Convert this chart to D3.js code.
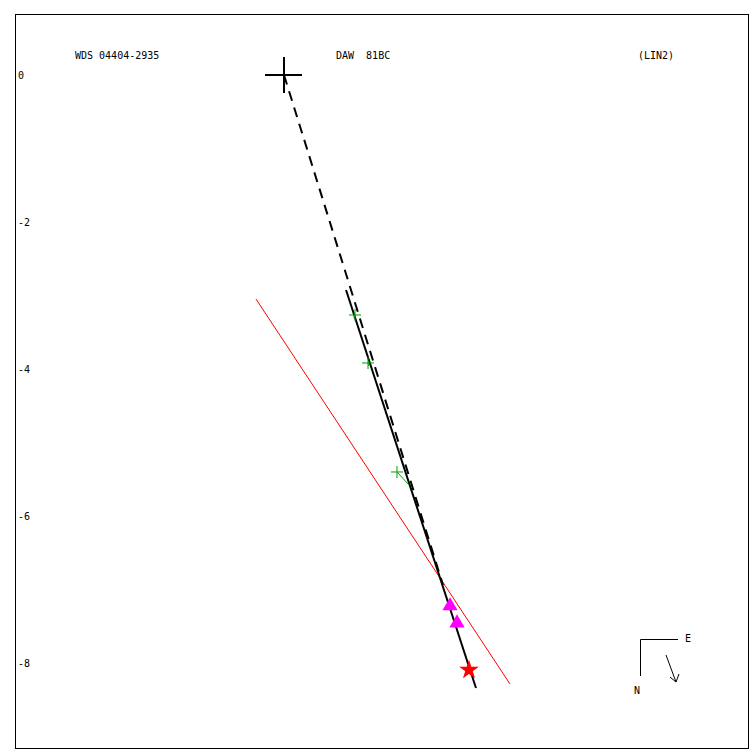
<!DOCTYPE html>
<html lang="en">
<head>
  <meta charset="UTF-8">
  <title>WDS 04404-2935 DAW 81BC (LIN2)</title>
  <style>
    body { margin: 0; background: #fff; }
    svg { display: block; }
    text { font-family: "DejaVu Sans Mono", monospace; font-size: 10px; fill: #000; }
  </style>
</head>
<body>
  <div id="chart"></div>
  <script src="https://d3js.org/d3.v7.min.js"></script>
  <script>
    // header labels
    const titles = ["WDS 04404-2935", "DAW  81BC", "(LIN2)"];
    const yTicks = [0, -2, -4, -6, -8];

    // primary star at origin (arcsec)
    const primary = [0, 0];

    // green: older measures, with ends of their O-C residual lines
    const greenObs = [[0.966, -3.265], [1.143, -3.918], [1.537, -5.401]];
    const greenCalc = [[0.952, -3.300], [1.157, -3.959], [1.701, -5.578]];

    // magenta: recent measures
    const magentaObs = [[2.259, -7.224], [2.354, -7.456]];

    // red star: last position
    const lastPos = [2.517, -8.095];

    // linear fit (solid), red reference line, dashed line from primary
    const fitLine = [[0.844, -2.925], [2.612, -8.340]];
    const redLine = [[-0.381, -3.048], [3.075, -8.286]];
    const dashLine = [[0, 0], [2.163, -6.939]];

    const W = 750, H = 750;
    const frame = { left: 15, top: 14, right: 748, bottom: 748 };
    const pxPerUnit = 73.5;

    const svg = d3.select("#chart").append("svg")
      .attr("width", W).attr("height", H);

    const x = d3.scaleLinear().domain([0, 1]).range([284, 284 + pxPerUnit]);
    const y = d3.scaleLinear().domain([0, -8]).range([75, 75 + 8 * pxPerUnit]);

    // frame
    svg.append("rect")
      .attr("x", frame.left + 0.5).attr("y", frame.top + 0.5)
      .attr("width", frame.right - frame.left)
      .attr("height", frame.bottom - frame.top)
      .attr("fill", "none").attr("stroke", "#000").attr("stroke-width", 1)
      .attr("shape-rendering", "crispEdges");

    // y axis labels only
    const yAxis = d3.axisRight(y).tickValues(yTicks).tickSize(0).tickPadding(3)
      .tickFormat(d => d === 0 ? "0" : "-" + Math.abs(d));
    const gy = svg.append("g").attr("transform", `translate(${frame.left},0)`).call(yAxis);
    gy.select(".domain").remove();
    gy.selectAll("text").style("font-family", "DejaVu Sans Mono, monospace").style("font-size", "10px");

    // titles
    const titleX = [75, 336, 638];
    svg.selectAll(".title").data(titles).enter().append("text")
      .attr("class", "title")
      .attr("x", (d, i) => titleX[i]).attr("y", 59)
      .style("white-space", "pre")
      .attr("xml:space", "preserve")
      .text(d => d);

    const line = d3.line().x(d => x(d[0])).y(d => y(d[1]));

    // red line
    svg.append("path").attr("d", line(redLine))
      .attr("stroke", "#ff0000").attr("stroke-width", 1).attr("fill", "none");

    // dashed line from primary
    svg.append("path").attr("d", line(dashLine))
      .attr("stroke", "#000").attr("stroke-width", 2).attr("fill", "none")
      .attr("stroke-dasharray", "10,7");

    // linear fit
    svg.append("path").attr("d", line(fitLine))
      .attr("stroke", "#000").attr("stroke-width", 2).attr("fill", "none");

    // residual lines
    svg.selectAll(".resid").data(greenObs).enter().append("line")
      .attr("x1", d => x(d[0])).attr("y1", d => y(d[1]))
      .attr("x2", (d, i) => x(greenCalc[i][0])).attr("y2", (d, i) => y(greenCalc[i][1]))
      .attr("stroke", "#00a000").attr("stroke-width", 1);

    // green plus marks
    const plus = svg.selectAll(".plus").data(greenObs).enter().append("g")
      .attr("transform", d => `translate(${x(d[0])},${y(d[1])})`);
    plus.append("line").attr("x1", -6).attr("x2", 6).attr("y1", 0).attr("y2", 0)
      .attr("stroke", "#00a000").attr("stroke-width", 1);
    plus.append("line").attr("x1", 0).attr("x2", 0).attr("y1", -6).attr("y2", 6)
      .attr("stroke", "#00a000").attr("stroke-width", 1);

    // magenta triangles
    svg.selectAll(".tri").data(magentaObs).enter().append("path")
      .attr("d", d3.symbol(d3.symbolTriangle, 100))
      .attr("transform", d => `translate(${x(d[0])},${y(d[1])})`)
      .attr("fill", "#ff00ff");

    // red star
    svg.append("path")
      .attr("d", d3.symbol(d3.symbolStar, 120))
      .attr("transform", `translate(${x(lastPos[0])},${y(lastPos[1])})`)
      .attr("fill", "#ff0000");

    // primary cross
    const cx = x(primary[0]), cy = y(primary[1]);
    svg.append("line").attr("x1", cx - 19).attr("x2", cx + 18).attr("y1", cy).attr("y2", cy)
      .attr("stroke", "#000").attr("stroke-width", 2);
    svg.append("line").attr("x1", cx).attr("x2", cx).attr("y1", cy - 18).attr("y2", cy + 18)
      .attr("stroke", "#000").attr("stroke-width", 2);

    // compass
    const comp = svg.append("g");
    comp.append("path").attr("d", "M678,639.5 L640.5,639.5 L640.5,676")
      .attr("fill", "none").attr("stroke", "#000").attr("stroke-width", 1);
    comp.append("text").attr("x", 685).attr("y", 642).text("E");
    comp.append("text").attr("x", 634).attr("y", 694).text("N");
    comp.append("path").attr("d", "M666,655 L676,682 M670,677 L676,682 L679,674")
      .attr("fill", "none").attr("stroke", "#000").attr("stroke-width", 1);
  </script>
</body>
</html>
